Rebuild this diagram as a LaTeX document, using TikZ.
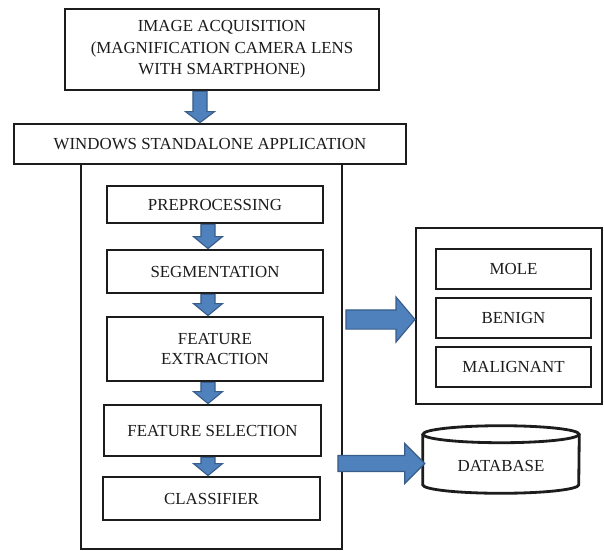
\documentclass[tikz,border=0pt]{standalone}
\usepackage{fontspec}
\setmainfont{Liberation Serif}
\usetikzlibrary{calc}

\definecolor{arrowblue}{HTML}{4F81BD}
\definecolor{arrowedge}{HTML}{385D8A}
\definecolor{inkline}{HTML}{1C1C1C}

\tikzset{
  boxsize/.style 2 args={minimum width=#1*0.025cm, minimum height=#2*0.025cm},
  stepbox/.style={draw=inkline, line width=2pt, fill=white, inner sep=0pt,
    align=center, text=inkline, font=\fontsize{12}{14.5}\selectfont},
  panel/.style={draw=inkline, line width=1.4pt, fill=white, inner sep=0pt},
  % fat block arrow: body half width, head half width, head length
  fatarrow/.style n args={3}{draw=arrowedge, fill=arrowblue, line width=0.8pt,
    to path={let \p1=(\tikztostart), \p2=(\tikztotarget),
      \n1={atan2(\y2-\y1,\x2-\x1)}, \n2={veclen(\x2-\x1,\y2-\y1)} in
      [shift={(\p1)}, rotate=\n1]
      (0pt,-#1) -- ({\n2*1pt-#3},-#1) -- ({\n2*1pt-#3},-#2) -- ({\n2*1pt},0pt)
      -- ({\n2*1pt-#3},#2) -- ({\n2*1pt-#3},#1) -- (0pt,#1) -- cycle}},
}

\begin{document}
\begin{tikzpicture}[x=0.025cm, y=-0.025cm]
\useasboundingbox (0,0) rectangle (604,551);

% Application panel and its title bar
\node[panel, boxsize={261}{385}] (app) at (211.5,356.5) {};
\node[stepbox, boxsize={314}{81}, font=\fontsize{12}{15.4}\selectfont] (acq) at (222,49.5)
  {IMAGE ACQUISITION\\(MAGNIFICATION CAMERA LENS\\WITH SMARTPHONE)};
\node[stepbox, boxsize={392}{40}] (win) at (210,144) {WINDOWS STANDALONE APPLICATION};

% Processing steps
\node[stepbox, boxsize={216}{37}] (pre) at (215,204.5) {PREPROCESSING};
\node[stepbox, boxsize={216}{43}] (seg) at (215,271.5) {SEGMENTATION};
\node[stepbox, boxsize={216}{64}] (fext) at (215,349) {FEATURE\\EXTRACTION};
\node[stepbox, boxsize={217}{51}] (fsel) at (212.5,430.5) {FEATURE SELECTION};
\node[stepbox, boxsize={217}{43}] (cls) at (211.5,498.5) {CLASSIFIER};

% Results
\node[panel, boxsize={186}{176}] (res) at (509,316) {};
\node[stepbox, boxsize={155}{40}] (mole) at (513.5,269) {MOLE};
\node[stepbox, boxsize={155}{40}] (ben) at (513.5,318) {BENIGN};
\node[stepbox, boxsize={155}{40}] (mal) at (513.5,367) {MALIGNANT};

% Database cylinder
\node[inner sep=0pt, boxsize={156}{67}] (db) at (501,459.5) {};
\draw[draw=inkline, line width=2pt, fill=white]
  ($(db.north west)+(0,8.5)$) -- ($(db.south west)+(0,-8.5)$)
  arc[start angle=180, end angle=0, x radius=78, y radius=8.5]
  -- ($(db.north east)+(0,8.5)$);
\draw[draw=inkline, line width=2pt, fill=white] ($(db.north)+(0,8.5)$) ellipse [x radius=78, y radius=8.5];
\node[text=inkline, font=\fontsize{12}{14.5}\selectfont] (dbtext) at ($(db.center)+(0,6)$) {DATABASE};

% Arrows
\coordinate (axis) at (208,0);
\draw[fatarrow={5pt}{10.3pt}{7.8pt}] ($(acq.south)+(-22,0)$) to ($(win.north)+(-10,0)$);
\draw[fatarrow={5pt}{10.3pt}{8.5pt}] (axis |- pre.south) to (axis |- seg.north);
\draw[fatarrow={5pt}{10.3pt}{8.5pt}] (axis |- seg.south) to (axis |- fext.north);
\draw[fatarrow={5pt}{10.3pt}{8.5pt}] (axis |- fext.south) to (axis |- fsel.north);
\draw[fatarrow={5pt}{10.3pt}{8.5pt}] (axis |- fsel.south) to (axis |- cls.north);
\draw[fatarrow={6.8pt}{16pt}{13.5pt}] ($(app.east |- res.west)+(3,3.5)$) to ($(res.west)+(0,3.5)$);
\draw[fatarrow={5.7pt}{14.2pt}{14.2pt}] ($(app.east |- db.west)+(-5,4)$) to ($(db.west)+(2,4)$);
\end{tikzpicture}
\end{document}
